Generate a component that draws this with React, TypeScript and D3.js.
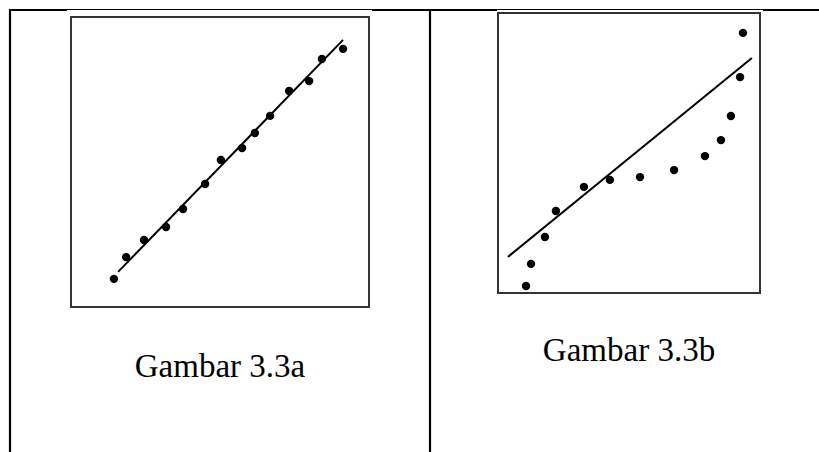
import * as d3 from 'd3';

// Values, both axes on a 0..100 scale of each panel's box
const leftX = [14.4, 18.5, 24.5, 31.9, 37.6, 45.0, 50.3, 57.4, 61.7, 66.8, 73.2, 79.9, 84.2, 91.3];
const leftY = [9.7, 17.2, 23.1, 27.6, 33.8, 42.4, 50.7, 54.8, 60.0, 65.9, 74.5, 77.9, 85.5, 89.0];
const leftFitX = [15.8, 91.3];
const leftFitY = [12.1, 92.1];

const rightX = [10.7, 12.6, 17.9, 22.1, 32.8, 42.7, 54.2, 67.2, 79.0, 85.1, 88.9, 92.4, 93.5];
const rightY = [2.5, 10.4, 20.0, 29.3, 37.9, 40.4, 41.4, 43.9, 48.9, 54.6, 63.2, 77.1, 92.9];
const rightFitX = [3.8, 96.9];
const rightFitY = [12.9, 83.9];

const captions = ['Gambar 3.3a', 'Gambar 3.3b'];

interface PanelProps {
	box: { x0: number; x1: number; y0: number; y1: number };
	xs: number[];
	ys: number[];
	fitX: number[];
	fitY: number[];
	caption: string;
	captionY: number;
	bg: { x0: number; x1: number };
}

const Panel = ({ box, xs, ys, fitX, fitY, caption, captionY, bg }: PanelProps) => {
	const x = d3.scaleLinear().domain([0, 100]).range([box.x0, box.x1]);
	const y = d3.scaleLinear().domain([0, 100]).range([box.y1, box.y0]);
	const line = d3
		.line<number>()
		.x((d) => x(fitX[d]))
		.y((d) => y(fitY[d]));

	return (
		<g>
			{/* white image background clips the table rule a little */}
			<rect x={bg.x0} y={10} width={bg.x1 - bg.x0} height={box.y1 - 8} fill="#fff" />
			<rect
				x={box.x0}
				y={box.y0}
				width={box.x1 - box.x0}
				height={box.y1 - box.y0}
				fill="#fff"
				stroke="#333"
				strokeWidth={2}
			/>
			<path d={line([0, 1]) || ''} stroke="#000" strokeWidth={2} fill="none" />
			{xs.map((v, i) => (
				<circle key={i} cx={x(v)} cy={y(ys[i])} r={4.2} fill="#000" />
			))}
			<text
				x={(box.x0 + box.x1) / 2}
				y={captionY}
				textAnchor="middle"
				style={{ fontFamily: 'Liberation Serif, DejaVu Serif, serif', fontSize: 33 }}
				fill="#000"
			>
				{caption}
			</text>
		</g>
	);
};

export default function App() {
	const W = 819;
	const H = 452;
	return (
		<div style={{ position: 'fixed', left: 0, top: 0, width: W, height: H, background: '#fff' }}>
			<svg width={W} height={H} style={{ display: 'block' }}>
				<rect width={W} height={H} fill="#fff" />
				{/* table rules */}
				<line x1={9} x2={W} y1={10} y2={10} stroke="#000" strokeWidth={2} />
				<line x1={10} x2={10} y1={9} y2={H} stroke="#000" strokeWidth={2.2} />
				<line x1={430} x2={430} y1={9} y2={H} stroke="#000" strokeWidth={2.2} />
				<Panel
					box={{ x0: 71, x1: 369, y0: 17, y1: 307 }}
					xs={leftX}
					ys={leftY}
					fitX={leftFitX}
					fitY={leftFitY}
					caption={captions[0]}
					captionY={377}
					bg={{ x0: 67, x1: 372 }}
				/>
				<Panel
					box={{ x0: 498, x1: 760, y0: 13, y1: 293 }}
					xs={rightX}
					ys={rightY}
					fitX={rightFitX}
					fitY={rightFitY}
					caption={captions[1]}
					captionY={361}
					bg={{ x0: 497, x1: 763 }}
				/>
			</svg>
		</div>
	);
}
